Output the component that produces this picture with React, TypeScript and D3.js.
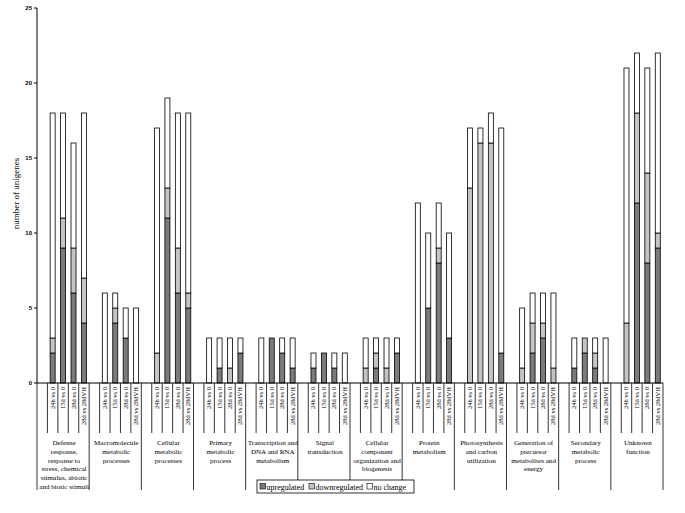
import { scaleBand, scaleLinear, stack } from "d3";

const groups = [
  ["Defense", "response,", "response to", "stress, chemical", "stimulus, abiotic", "and biotic stimuli"],
  ["Macromolecule", "metabolic", "processes"],
  ["Cellular", "metabolic", "processes"],
  ["Primary", "metabolic", "process"],
  ["Transcription and", "DNA and RNA", "metabolism"],
  ["Signal", "transduction"],
  ["Cellular", "component", "organization and", "biogenesis"],
  ["Protein", "metabolism"],
  ["Photosynthesis", "and carbon", "utilization"],
  ["Generation of", "precursor", "metabolites and", "energy"],
  ["Secondary", "metabolic", "process"],
  ["Unknown", "function"],
];
const comparisons = ["24h vs 0", "15d vs 0", "28d vs 0", "28d vs 28dVH"];

// one row per group, one value per comparison
const upregulated = [
  [2, 9, 6, 4], [0, 4, 3, 0], [0, 11, 6, 5], [0, 1, 0, 2],
  [0, 3, 2, 1], [1, 2, 1, 0], [0, 1, 0, 2], [0, 5, 8, 3],
  [0, 0, 0, 2], [0, 2, 3, 0], [1, 2, 1, 0], [0, 12, 8, 9],
];
const downregulated = [
  [1, 2, 3, 3], [0, 1, 0, 0], [2, 2, 3, 1], [0, 0, 1, 0],
  [0, 0, 0, 0], [0, 0, 0, 0], [1, 1, 1, 0], [0, 0, 1, 0],
  [13, 16, 16, 0], [1, 2, 1, 1], [0, 1, 1, 0], [4, 6, 6, 1],
];
const noChange = [
  [15, 7, 7, 11], [6, 1, 2, 5], [15, 6, 9, 12], [3, 2, 2, 1],
  [3, 0, 1, 2], [1, 0, 1, 2], [2, 1, 2, 1], [12, 5, 3, 7],
  [4, 1, 2, 15], [4, 2, 2, 5], [2, 0, 1, 3], [17, 4, 7, 12],
];
const yTicks = [0, 5, 10, 15, 20, 25];

const keys = ["up", "down", "none"];
const colors: Record<string, string> = { up: "#7b7b7b", down: "#c4c4c4", none: "#ffffff" };
const legendLabels = ["upregulated", "downregulated", "no change"];

const rows = groups.flatMap((_, gi) =>
  comparisons.map((c, ci) => ({
    g: gi,
    c,
    up: upregulated[gi][ci],
    down: downregulated[gi][ci],
    none: noChange[gi][ci],
  }))
);

const serif = "'Liberation Serif', 'Times New Roman', serif";

export default function App() {
  const left = 37;
  const right = 663;
  const top = 8;
  const base = 383;

  const x0 = scaleBand<number>().domain(groups.map((_, i) => i)).range([left, right]);
  const x1 = scaleBand<string>()
    .domain(["gap", ...comparisons])
    .range([0, x0.bandwidth()])
    .paddingInner(0.52)
    .paddingOuter(0.26);
  const y = scaleLinear().domain([0, 25]).range([base, top]);

  const series = stack<any>().keys(keys)(rows);
  const step = x1.step();

  return (
    <svg width={685} height={513} style={{ position: "absolute", left: 0, top: 0, background: "#fff" }}>
      {/* y axis */}
      <line x1={left} x2={left} y1={top} y2={base} stroke="#000" />
      {yTicks.map((t) => (
        <g key={t}>
          <line x1={left - 3} x2={left} y1={y(t)} y2={y(t)} stroke="#000" />
          <text x={left - 5} y={y(t) + 2} fontSize={6} fontWeight="bold" textAnchor="end" fontFamily="'Liberation Sans', Arial, sans-serif">
            {t}
          </text>
        </g>
      ))}
      <text
        transform={`translate(19,${(top + base) / 2 - 2}) rotate(-90)`}
        fontSize={9}
        textAnchor="middle"
        fontFamily={serif}
      >
        number of unigenes
      </text>

      {/* bars */}
      {series.map((s) => (
        <g key={s.key} fill={colors[s.key]} stroke="#000" strokeWidth={0.8}>
          {s.map((d: any, i: number) =>
            d[1] > d[0] ? (
              <rect
                key={i}
                x={x0(d.data.g)! + x1(d.data.c)!}
                y={y(d[1])}
                width={x1.bandwidth()}
                height={y(d[0]) - y(d[1])}
              />
            ) : null
          )}
        </g>
      ))}

      {/* category axis */}
      <line x1={left} x2={right} y1={base} y2={base} stroke="#000" />
      {groups.map((lines, gi) => {
        const gx = x0(gi)!;
        return (
          <g key={gi}>
            <line x1={gx} x2={gx} y1={base} y2={490} stroke="#000" strokeWidth={0.8} />
            {[1, 2, 3, 4].map((k) => (
              <line key={k} x1={gx + k * step} x2={gx + k * step} y1={base} y2={433} stroke="#000" strokeWidth={0.8} />
            ))}
            {comparisons.map((c) => (
              <text
                key={c}
                transform={`translate(${gx + x1(c)! + x1.bandwidth() / 2 + 2},${base + 4}) rotate(-90)`}
                fontSize={6.5}
                textAnchor="end"
                fontFamily={serif}
              >
                {c}
              </text>
            ))}
            {lines.map((ln, li) => (
              <text
                key={li}
                x={gx + x0.bandwidth() / 2 + 1}
                y={445 + li * 8.8}
                fontSize={7.1}
                textAnchor="middle"
                fontFamily={serif}
              >
                {ln}
              </text>
            ))}
          </g>
        );
      })}
      <line x1={right} x2={right} y1={base} y2={490} stroke="#000" strokeWidth={0.8} />

      {/* legend */}
      <g fontFamily={serif} fontSize={8}>
        <rect x={257} y={480} width={157} height={13} fill="#fff" stroke="#000" strokeWidth={0.8} />
        {keys.map((k, i) => {
          const lx = [260, 309, 367][i];
          return (
            <g key={k}>
              <rect x={lx} y={483.5} width={5.5} height={5.5} fill={colors[k]} stroke="#000" strokeWidth={0.6} />
              <text x={lx + 6.5} y={489.5}>{legendLabels[i]}</text>
            </g>
          );
        })}
      </g>
    </svg>
  );
}
